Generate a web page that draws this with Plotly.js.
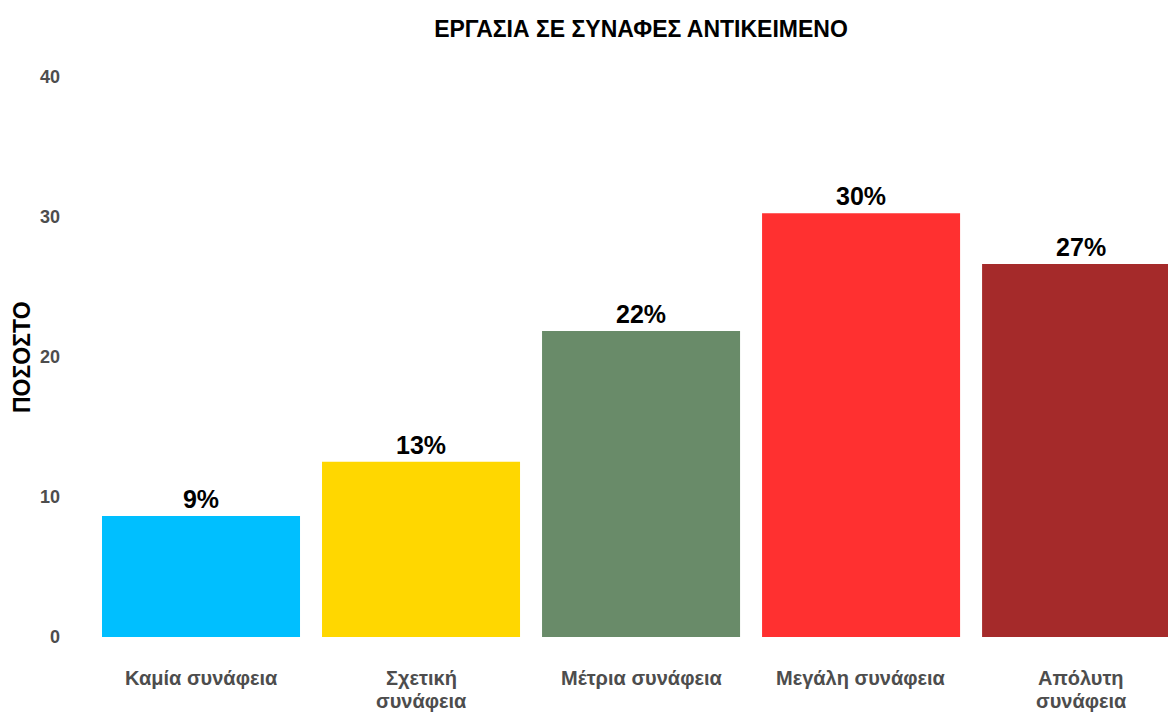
<!DOCTYPE html>
<html>
<head>
<meta charset="utf-8">
<script src="https://cdn.plot.ly/plotly-3.0.1.min.js"></script>
<style>html,body{margin:0;padding:0;background:#fff;}#chart{width:1168px;height:713px;}</style>
</head>
<body>
<div id="chart"></div>
<script>
const categories = ["Καμία συνάφεια", "Σχετική συνάφεια", "Μέτρια συνάφεια", "Μεγάλη συνάφεια", "Απόλυτη συνάφεια"];
const categoryLabelLines = [["Καμία συνάφεια"], ["Σχετική", "συνάφεια"], ["Μέτρια συνάφεια"], ["Μεγάλη συνάφεια"], ["Απόλυτη", "συνάφεια"]];
const values = [8.64, 12.52, 21.86, 30.26, 26.64];
const valueLabels = ["9%", "13%", "22%", "30%", "27%"];
const barColors = ["#00BFFF", "#FFD700", "#698B69", "#FF3030", "#A52A2A"];
const yTicks = [0, 10, 20, 30, 40];

const FONT = '"Liberation Sans", Arial, Helvetica, sans-serif';

const trace = {
  type: 'bar',
  x: categories,
  y: values,
  text: valueLabels,
  texttemplate: '<b>%{text}</b>',
  textposition: 'outside',
  cliponaxis: true,
  textfont: {family: FONT, size: 25, color: '#000'},
  marker: {color: barColors, line: {width: 0}},
  width: 0.9,
  hoverinfo: 'skip'
};

const annotations = [{
  text: '<b>ΠΟΣΟΣΤΟ</b>',
  xref: 'paper', yref: 'paper',
  x: (22 - 91) / (1168 - 91), y: 0.5,
  xanchor: 'center', yanchor: 'middle',
  textangle: -90,
  showarrow: false,
  font: {family: FONT, size: 23, color: '#000'}
}];

categoryLabelLines.forEach((lines, i) => {
  lines.forEach((line, j) => {
    annotations.push({
      text: '<b>' + line + '</b>',
      xref: 'x', yref: 'y',
      x: categories[i], y: 0,
      xanchor: 'center', yanchor: 'middle',
      yshift: -(41 + 22.5 * j),
      showarrow: false,
      font: {family: FONT, size: 20, color: '#4d4d4d'}
    });
  });
});

const layout = {
  width: 1168,
  height: 713,
  margin: {l: 91, r: 0, t: 77, b: 76, pad: 0},
  paper_bgcolor: '#fff',
  plot_bgcolor: '#fff',
  showlegend: false,
  font: {family: FONT},
  title: {
    text: '<b>ΕΡΓΑΣΙΑ ΣΕ ΣΥΝΑΦΕΣ ΑΝΤΙΚΕΙΜΕΝΟ</b>',
    font: {family: FONT, size: 23, color: '#000'},
    x: 641 / 1168, xref: 'container', xanchor: 'center',
    y: 1 - 28.5 / 713, yref: 'container', yanchor: 'middle'
  },
  xaxis: {
    type: 'category',
    range: [-0.5, 4.395],
    showgrid: false, zeroline: false, showline: false,
    ticks: '',
    showticklabels: false,
    fixedrange: true
  },
  yaxis: {
    range: [0, 40],
    tickvals: yTicks,
    ticktext: yTicks.map(v => '<b>' + v + '</b>'),
    showgrid: false, zeroline: false, showline: false,
    ticks: '',
    ticklabelstandoff: 30,
    tickfont: {family: FONT, size: 18, color: '#4d4d4d'},
    fixedrange: true
  },
  annotations: annotations
};

Plotly.newPlot('chart', [trace], layout, {displayModeBar: false, staticPlot: true});
</script>
</body>
</html>
